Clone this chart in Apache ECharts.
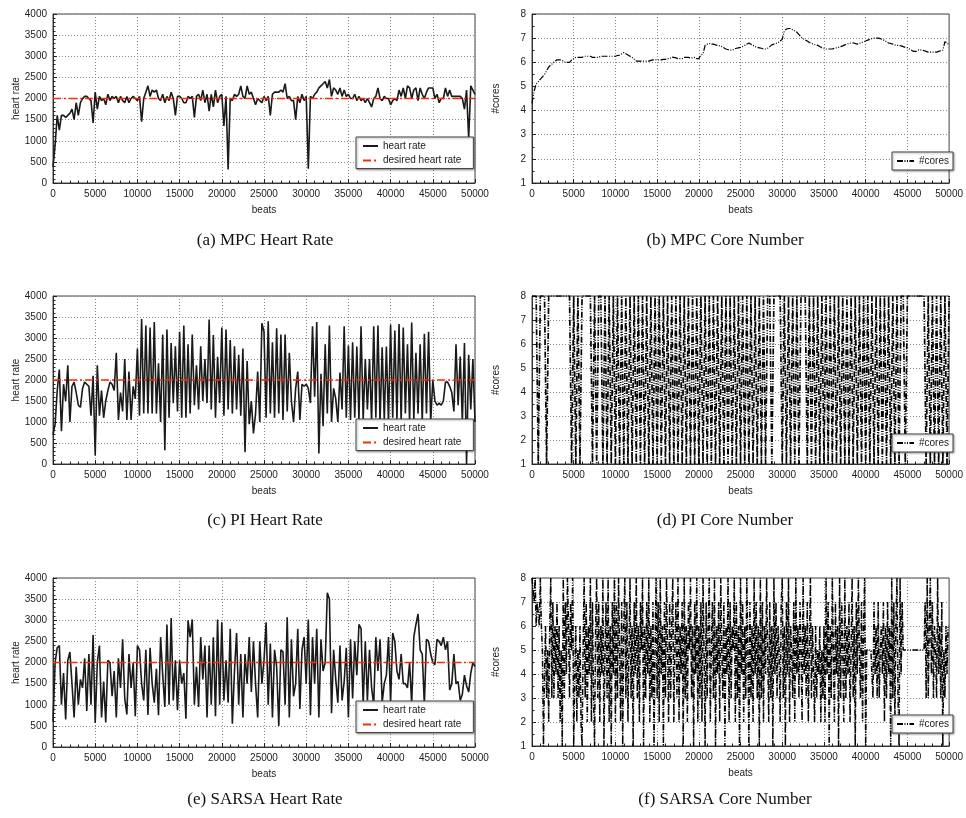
<!DOCTYPE html>
<html>
<head>
<meta charset="utf-8">
<script src="https://cdn.jsdelivr.net/npm/echarts@6/dist/echarts.min.js"></script>
<style>
  html, body { margin: 0; padding: 0; background: #fff; }
  #chart { width: 966px; height: 818px; }
</style>
</head>
<body>
<div id="chart"></div>
<script>
// Beats between two samples: most traces are logged every 250 beats,
// the SARSA core trace every 125 beats.
const beatStep = 250;
const sarsaCoreStep = 125;
const desiredRate = 2000;
const beatTicks = [0, 5000, 10000, 15000, 20000, 25000, 30000, 35000, 40000, 45000, 50000];
const rateTicks = [0, 500, 1000, 1500, 2000, 2500, 3000, 3500, 4000];
const coreTicks = [1, 2, 3, 4, 5, 6, 7, 8];

const captions = ['(a) MPC Heart Rate', '(b) MPC Core Number', '(c) PI Heart Rate',
                  '(d) PI Core Number', '(e) SARSA Heart Rate', '(f) SARSA Core Number'];

// MPC controller: heart rate and allocated cores (one row = 5000 beats)
const mpcRate = [
  380,900,1600,1250,1600,1600,1550,1600,1650,1750,1500,1900,1600,1900,2000,2050,2050,2000,1950,1420,
  2150,1750,2050,1950,2000,1850,2100,1950,2050,2000,2050,1900,2050,1950,1900,2050,1900,2000,2050,2000,
  1950,2050,1450,2000,2150,2300,2050,2200,2150,2200,2000,1950,2100,1900,2050,1950,2150,2000,1600,2050,
  2050,2000,1900,1900,2050,2000,2050,1550,2050,2100,1950,2200,1900,2100,1700,2100,1800,2200,1900,2050,
  2100,1350,2050,320,2000,1950,2100,2050,2100,2300,2050,2000,2300,2100,2150,2000,1850,2000,1950,1900,
  2050,1950,2050,1600,2100,2150,2150,2150,2200,2150,2350,2000,2050,1950,1950,1500,2050,1900,2100,1950,
  2050,340,2050,2000,2100,2150,2250,2300,2350,2400,2250,2450,2050,2250,2200,2100,2250,2050,2200,2050,
  2100,2000,2000,2100,1950,2050,1950,2000,1900,2000,1900,1800,2000,2050,2250,2000,1950,2050,2000,2000,
  1850,1950,2000,1950,2200,2050,2250,2000,2300,2250,2000,2200,2250,1950,2250,2100,2000,2150,2250,2250,
  2250,2000,2100,1900,2000,2000,2250,2050,2200,2050,2050,2050,2050,2050,2000,1750,2200,1050,2300,2200,
  2100
];
const mpcCores = [
  4.3,4.8,5.1,5.2,5.3,5.4,5.5,5.65,5.8,5.9,5.95,6.05,6.1,6.1,6.1,6.05,6.0,6.0,6.0,6.1,
  6.15,6.2,6.2,6.2,6.2,6.25,6.25,6.25,6.25,6.2,6.2,6.2,6.2,6.25,6.25,6.25,6.25,6.25,6.25,6.25,
  6.25,6.28,6.3,6.35,6.4,6.35,6.3,6.25,6.2,6.12,6.05,6.05,6.05,6.05,6.05,6.05,6.05,6.08,6.1,6.1,
  6.1,6.1,6.1,6.12,6.12,6.15,6.15,6.22,6.2,6.18,6.15,6.15,6.15,6.2,6.2,6.2,6.18,6.18,6.2,6.15,
  6.15,6.3,6.35,6.7,6.75,6.78,6.75,6.75,6.72,6.7,6.68,6.65,6.6,6.55,6.52,6.5,6.5,6.55,6.58,6.6,
  6.62,6.65,6.7,6.75,6.8,6.75,6.7,6.65,6.62,6.6,6.58,6.55,6.55,6.58,6.65,6.72,6.75,6.78,6.82,6.88,
  6.95,7.3,7.38,7.4,7.4,7.35,7.3,7.25,7.15,7.05,6.98,6.92,6.88,6.82,6.78,6.75,6.72,6.7,6.65,6.6,
  6.58,6.55,6.55,6.55,6.55,6.58,6.6,6.62,6.65,6.68,6.72,6.75,6.78,6.8,6.8,6.78,6.75,6.78,6.82,6.85,
  6.88,6.92,6.95,6.98,7.0,7.0,7.0,6.98,6.95,6.9,6.85,6.8,6.78,6.75,6.72,6.7,6.7,6.68,6.65,6.62,
  6.6,6.55,6.5,6.45,6.45,6.5,6.52,6.5,6.48,6.45,6.42,6.42,6.42,6.42,6.42,6.45,6.48,6.5,6.85,6.8,
  6.72
];

// PI controller
const piRate = [
  700,950,1750,2250,780,1900,1500,2350,1000,1850,1950,1700,1400,1350,1800,1950,1900,1850,1150,2100,
  200,2350,1150,1750,1100,1500,1750,1950,1900,1750,2650,1050,1700,1250,2500,1050,2200,1050,1850,1550,
  2750,1150,3450,1200,3300,1200,3250,1200,3380,1200,2400,1000,3080,330,3200,1100,2880,1450,2800,1250,
  3150,1100,3300,1100,2850,1200,3080,1400,2350,1300,2800,1500,2500,1450,3440,1300,3070,1100,2550,1450,
  3250,1150,3200,1300,2950,1200,2800,1300,2600,1150,2750,280,2450,950,1500,730,1200,2200,1000,3350,
  3150,1100,3400,1200,2900,1100,3230,1200,3080,1050,3080,1250,2650,1500,1000,1800,2200,1050,1900,1850,
  1900,1800,1450,3280,1600,3380,250,2150,900,2850,1200,3300,1000,1800,1550,1000,2180,1300,3280,1100,
  2820,1050,2900,1100,2800,1050,3280,1050,2500,1300,2500,1000,3280,1100,3300,1000,2780,1050,2800,1000,
  3320,1100,3180,1050,3330,1000,3250,1200,2850,1000,3370,1050,2650,1200,2850,1000,3100,1200,3150,1000,
  2000,1500,1400,1450,1400,1500,1950,1950,1850,1700,1250,2850,1400,2560,1000,2880,0,2600,1300,2500,
  1000
];
const piCores = [
  8,8,8,1,8,8,8,1,8,8,8,8,8,8,8,8,8,8,8,1,
  8,1,8,1,8,8,8,8,8,1,8,1,8,8,1,8,1,8,1,8,
  1,8,1,8,1,8,1,8,1,8,1,8,1,8,1,8,1,8,1,8,
  1,8,1,8,1,8,1,8,1,8,1,8,1,8,1,8,1,8,1,8,
  1,8,1,8,1,8,1,8,1,8,1,8,1,8,1,8,1,8,1,8,
  1,8,1,8,1,8,1,8,1,8,1,8,1,8,8,1,8,8,8,8,
  1,8,1,8,1,8,1,8,1,8,8,8,1,8,1,8,1,8,1,8,
  1,8,1,8,1,8,1,8,1,8,1,8,1,8,1,8,1,8,1,8,
  1,8,1,8,1,8,1,8,1,8,1,8,1,8,1,8,1,8,8,1,
  8,8,8,8,8,8,8,8,8,1,8,1,8,1,8,1,8,1,8,1,
  8
];

// SARSA learner
const sarsaRate = [
  600,2000,2350,2400,1000,1750,650,2050,2250,1500,700,1900,1000,1600,1400,2100,850,2200,1000,2650,
  570,2000,2400,700,1550,580,2050,2000,1200,1800,700,2100,1400,2550,1150,770,2200,1400,2000,730,
  2400,2300,1500,1100,2300,760,2350,1500,1050,1850,750,2600,1700,950,2900,1000,3050,1100,2050,870,
  2050,1500,1750,670,3000,2600,3020,1000,1900,950,2600,1600,2400,700,2400,1000,2600,730,3020,1000,
  2950,1100,2050,1050,2800,550,1800,2700,1000,2200,700,2200,1500,2600,1300,2500,1500,700,2500,1500,
  2050,2950,1000,2450,700,2300,1900,500,2300,2250,1000,3070,700,2550,1200,1500,2800,900,2300,2600,
  1500,3020,750,2600,1500,2800,700,2550,1800,2000,3650,3500,800,2300,1600,1050,2400,1100,1550,2350,
  700,2550,1150,2500,1700,2900,2800,1000,2500,1100,2300,1400,1000,2600,1800,2550,1050,1500,1700,2600,
  1050,2700,2500,1800,1600,2200,1500,1500,1400,2000,1000,2600,2900,3150,2300,2200,1000,2550,2500,2200,
  2000,1950,2550,2500,2400,2600,2300,2500,1350,1500,2200,1500,1550,1100,1250,1700,1450,1300,1750,2000,
  1900
];
// one row = 2500 beats
const sarsaCores = [
  8,8,7,8,6,7,7,6,8,6,5,1,4,6,3,5,2,6,8,3,
  7,3,6,4,7,3,6,2,5,1,8,3,7,4,8,6,3,7,5,8,
  1,4,6,2,5,3,6,2,1,5,8,3,7,2,6,4,8,2,7,3,
  1,6,8,3,7,2,6,4,8,1,5,7,3,8,2,6,1,7,4,8,
  2,7,3,8,5,2,7,1,6,8,3,7,2,5,8,3,6,1,7,4,
  8,3,6,2,7,5,8,1,6,3,7,4,8,2,6,3,7,1,5,8,
  3,7,2,8,4,6,1,7,3,8,5,2,7,3,6,8,2,5,7,3,
  8,2,6,4,7,1,8,3,6,2,7,5,8,3,6,1,7,4,8,2,
  6,3,7,2,8,5,1,7,3,6,8,2,5,7,3,8,1,6,4,7,
  2,8,5,3,7,1,6,4,8,2,7,3,6,5,8,2,7,3,6,1,
  8,4,7,2,6,3,8,5,1,7,3,6,2,8,4,7,3,6,1,8,
  3,7,2,6,4,8,5,2,7,3,6,1,8,4,7,3,6,5,2,7,
  8,3,6,1,7,4,8,2,6,5,3,7,2,8,4,6,3,7,5,2,
  8,4,6,3,7,2,5,8,3,6,4,2,6,3,5,4,6,2,5,3,
  6,2,8,4,7,1,6,3,8,5,2,7,4,6,1,8,3,7,5,2,
  8,3,6,4,7,2,5,8,3,6,1,7,4,8,5,3,7,2,6,8,
  1,5,5,5,5,5,5,3,7,4,6,3,7,3,5,6,4,7,2,6,
  3,7,4,6,1,8,3,7,2,6,8,3,1,8,4,7,5,5,5,5,
  5,5,5,5,5,5,5,5,5,5,5,5,5,5,5,5,5,7,3,8,
  3,6,8,4,7,3,6,5,3,8,4,6,3,7,1,5,3,6,4,6,
  6
];

const withBeats = (vals, step) => vals.map((v, i) => [i * step, v]);

const FONT = 'Liberation Sans';
const TEXT = '#222';

// Six panels: plot rectangles in pixels
const panels = [
  { left: 53,  top: 14,  width: 422, height: 169, kind: 'rate',  data: mpcRate,    step: beatStep },
  { left: 532, top: 14,  width: 422, height: 169, kind: 'cores', data: mpcCores,   step: beatStep, lw: 1.2 },
  { left: 53,  top: 296, width: 422, height: 168, kind: 'rate',  data: piRate,     step: beatStep },
  { left: 532, top: 296, width: 422, height: 168, kind: 'cores', data: piCores,    step: beatStep, lw: 1.7 },
  { left: 53,  top: 578, width: 422, height: 169, kind: 'rate',  data: sarsaRate,  step: beatStep },
  { left: 532, top: 578, width: 422, height: 168, kind: 'cores', data: sarsaCores, step: sarsaCoreStep, lw: 1.5 }
];
const legendBoxes = [
  { left: 356, top: 137 }, { left: 892, top: 152 },
  { left: 356, top: 419 }, { left: 892, top: 434 },
  { left: 356, top: 701 }, { left: 892, top: 715 }
];
const captionPos = [
  [265, 241], [725, 241], [265, 521], [725, 521], [265, 800], [725, 800]
];

const grid = [], xAxis = [], yAxis = [], series = [], legend = [], graphic = [];

// legend keys show the line only, no marker
const legendCommon = {
  show: true, orient: 'vertical',
  backgroundColor: '#fff', borderColor: '#444', borderWidth: 1,
  shadowColor: 'rgba(0,0,0,0.35)', shadowBlur: 2, shadowOffsetX: 1, shadowOffsetY: 1,
  textStyle: { color: TEXT, fontFamily: FONT, fontSize: 10 },
  itemStyle: { opacity: 0, color: 'rgba(0,0,0,0)', borderWidth: 0 },
  selectedMode: false, z: 10
};

panels.forEach((p, i) => {
  grid.push({ left: p.left, top: p.top, width: p.width, height: p.height,
              show: true, borderColor: '#444', borderWidth: 1, backgroundColor: '#fff' });
  const tickCommon = {
    axisLine: { show: true, lineStyle: { color: '#333', width: 1 } },
    axisTick: { show: true, inside: true, length: 4, lineStyle: { color: '#222', width: 1 } },
    minorTick: { show: true, length: 2.5, lineStyle: { color: '#222', width: 1 } },
    splitLine: { show: true, lineStyle: { color: '#8a8a8a', type: [1, 2], width: 1 } },
    axisLabel: { color: TEXT, fontFamily: FONT, fontSize: 10, margin: 6,
                 formatter: v => String(v) },
    nameTextStyle: { color: TEXT, fontFamily: FONT, fontSize: 10 }
  };
  xAxis.push(Object.assign({}, tickCommon, {
    gridIndex: i, type: 'value', min: beatTicks[0], max: beatTicks[beatTicks.length - 1],
    interval: beatTicks[1] - beatTicks[0],
    minorTick: Object.assign({}, tickCommon.minorTick, { splitNumber: 5 }),
    name: 'beats', nameLocation: 'middle', nameGap: 22
  }));
  if (p.kind === 'rate') {
    yAxis.push(Object.assign({}, tickCommon, {
      gridIndex: i, type: 'value', min: rateTicks[0], max: rateTicks[rateTicks.length - 1],
      interval: rateTicks[1] - rateTicks[0],
      minorTick: Object.assign({}, tickCommon.minorTick, { splitNumber: 5 }),
      name: 'heart rate', nameLocation: 'middle', nameGap: 28
    }));
    series.push({
      name: 'heart rate', type: 'line', xAxisIndex: i, yAxisIndex: i,
      data: withBeats(p.data, p.step), showSymbol: false, symbol: 'none',
      lineStyle: { color: '#1a1a1a', width: 1.6 }, itemStyle: { color: '#1a1a1a' }, z: 3
    });
    series.push({
      name: 'desired heart rate', type: 'line', xAxisIndex: i, yAxisIndex: i,
      data: [[beatTicks[0], desiredRate], [beatTicks[beatTicks.length - 1], desiredRate]],
      showSymbol: false, symbol: 'none',
      lineStyle: { color: '#ff2a00', width: 1.6, type: [8, 3, 2, 3] },
      itemStyle: { color: '#ff2a00' }, z: 4
    });
    legend.push(Object.assign({}, legendCommon, {
      left: legendBoxes[i].left, top: legendBoxes[i].top,
      data: ['heart rate', 'desired heart rate'],
      itemWidth: 15, itemHeight: 12, itemGap: 4.5, padding: [4, 12, 3, 6]
    }));
  } else {
    yAxis.push(Object.assign({}, tickCommon, {
      gridIndex: i, type: 'value', min: coreTicks[0], max: coreTicks[coreTicks.length - 1],
      interval: coreTicks[1] - coreTicks[0],
      minorTick: Object.assign({}, tickCommon.minorTick, { splitNumber: 2 }),
      name: '#cores', nameLocation: 'middle', nameGap: 31
    }));
    series.push({
      name: '#cores', type: 'line', xAxisIndex: i, yAxisIndex: i,
      data: withBeats(p.data, p.step), showSymbol: false, symbol: 'none',
      lineStyle: { color: '#000', width: p.lw, type: [6, 1.5, 1, 1.5, 1, 1.5] },
      itemStyle: { color: '#000' }, z: 3
    });
    legend.push(Object.assign({}, legendCommon, {
      left: legendBoxes[i].left, top: legendBoxes[i].top,
      data: ['#cores'],
      itemWidth: 17, itemHeight: 12, padding: [4, 4, 4, 4]
    }));
  }
  graphic.push({
    type: 'text', x: captionPos[i][0], y: captionPos[i][1],
    style: { text: captions[i], textAlign: 'center', textVerticalAlign: 'middle',
             fill: '#111', font: '17px "Liberation Serif"' }
  });
});

const chart = echarts.init(document.getElementById('chart'), null, { renderer: 'canvas' });
chart.setOption({
  animation: false,
  backgroundColor: '#fff',
  grid, xAxis, yAxis, series, legend, graphic
});
</script>
</body>
</html>
